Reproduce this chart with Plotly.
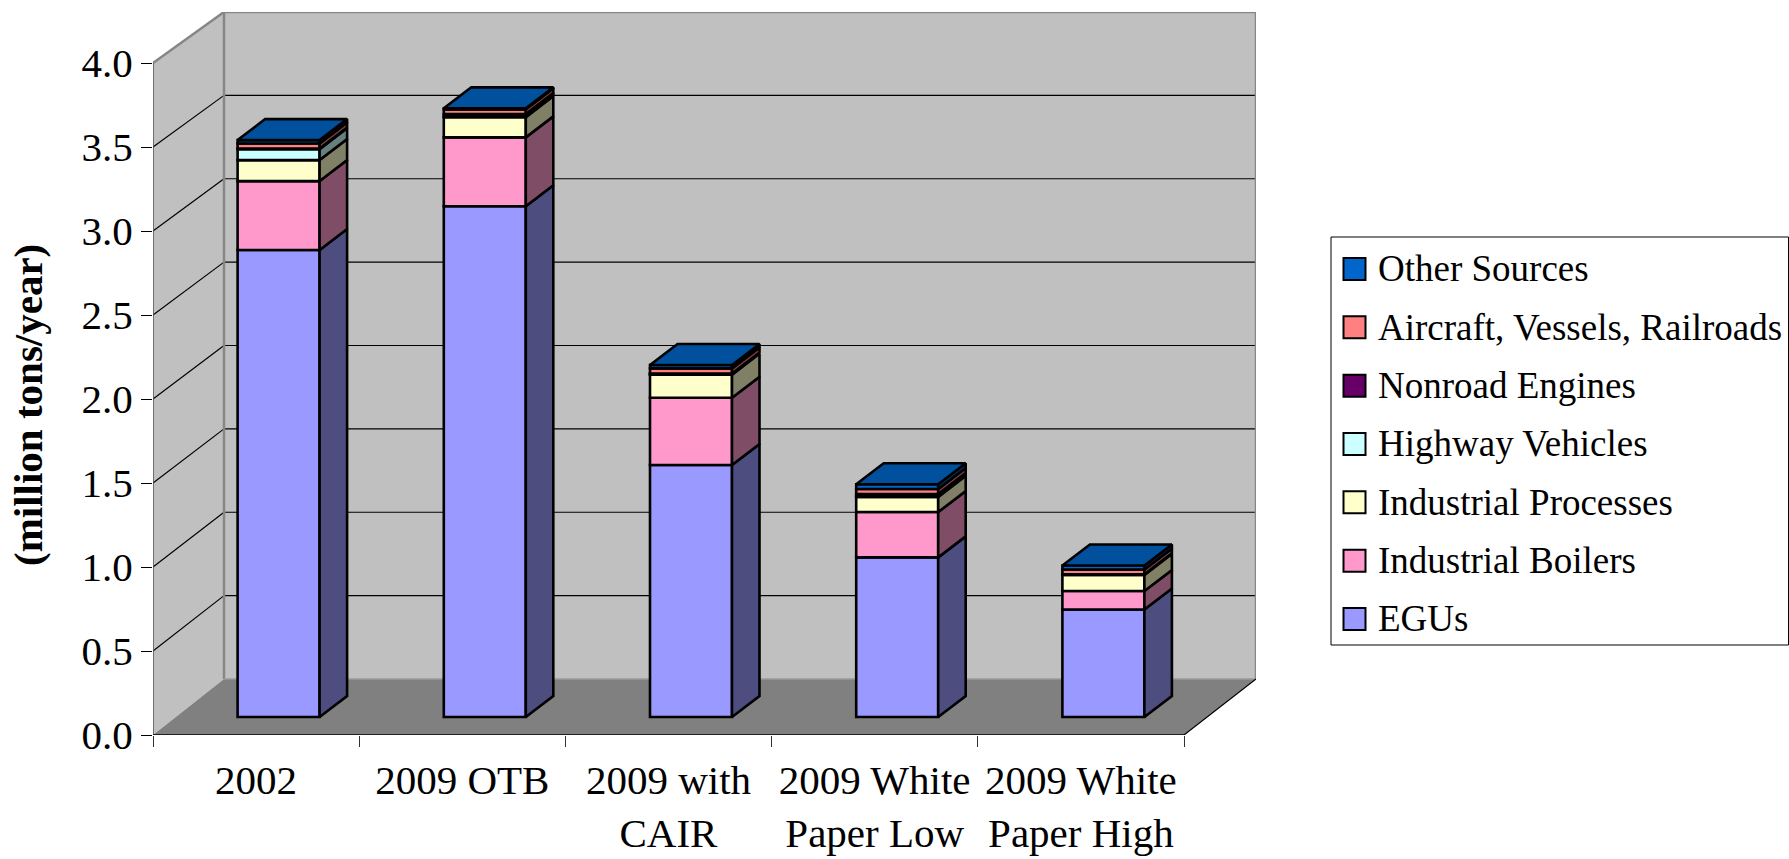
import plotly.graph_objects as go

# ---------- data ----------
categories = ["2002", "2009 OTB", "2009 with<br>CAIR", "2009 White<br>Paper Low", "2009 White<br>Paper High"]
egus       = [2.78, 3.04, 1.50, 0.95, 0.64]
ind_boil   = [0.41, 0.41, 0.40, 0.27, 0.11]
ind_proc   = [0.125, 0.12, 0.137, 0.09, 0.095]
highway    = [0.065, 0.005, 0.005, 0.005, 0.003]
nonroad    = [0.004, 0.014, 0.003, 0.012, 0.002]
aircraft   = [0.03, 0.028, 0.03, 0.03, 0.028]
other      = [0.02, 0.006, 0.02, 0.028, 0.024]

series_names = ["EGUs", "Industrial Boilers", "Industrial Processes", "Highway Vehicles",
                "Nonroad Engines", "Aircraft, Vessels, Railroads", "Other Sources"]
series_vals = [egus, ind_boil, ind_proc, highway, nonroad, aircraft, other]
front_cols = ["#9999FF", "#FF99CC", "#FFFFCC", "#CCFFFF", "#660066", "#FF8080", "#0066CC"]
side_cols  = ["#4D4D80", "#804D66", "#808066", "#668080", "#330033", "#804040", "#003366"]
top_col = "#00509E"
y_ticks = [0, 0.5, 1, 1.5, 2, 2.5, 3, 3.5, 4]

# ---------- geometry (page px -> axis units) ----------
W, H = 1789, 859
X0, X5, XR = 153, 1184, 1256      # front-left, front-right, back-right
Y0, Y4, YT = 735, 63, 12
ux = (X5 - X0) / 5
uy = (Y0 - Y4) / 4
FONT = "Liberation Serif"

xmax = (XR - X0) / ux
ytop = (Y0 - YT) / uy
wall_dx = (224 - X0) / ux
wall_b = 56 / uy
def back_y(v):
    return wall_b + v * (ytop - wall_b) / 4

bar_w = 82 / ux
bar_sx = 22.5 / ux
bar_base = 18 / uy
depth_x = 27.5 / ux
depth_y = 21 / uy
LW = 2.6

fig = go.Figure()
shapes = []
def poly(pts, fill=None, line=None, width=0, layer="below", xref="x", yref="y"):
    path = "M" + "L".join(f"{x},{y}" for x, y in pts) + "Z"
    shapes.append(dict(type="path", path=path, xref=xref, yref=yref, layer=layer,
                       fillcolor=fill or "rgba(0,0,0,0)",
                       line=dict(color=line or "rgba(0,0,0,0)", width=width)))
def seg(x0, y0, x1, y1, color, width, layer="below"):
    shapes.append(dict(type="line", x0=x0, y0=y0, x1=x1, y1=y1, xref="x", yref="y",
                       layer=layer, line=dict(color=color, width=width)))

# walls and floor
poly([(0, 0), (0, 4), (wall_dx, ytop), (wall_dx, wall_b)], fill="#C0C0C0")
poly([(wall_dx, wall_b), (wall_dx, ytop), (xmax, ytop), (xmax, wall_b)], fill="#C0C0C0")
poly([(0, 0), (wall_dx, wall_b), (xmax, wall_b), (5, 0)], fill="#808080")
# gridlines
for v in y_ticks[1:-1]:
    seg(0, v, wall_dx, back_y(v), "#000000", 1.2)
    seg(wall_dx, back_y(v), xmax, back_y(v), "#000000", 1.2)
# wall edges
G = "#868686"
seg(0, 4, wall_dx, ytop, G, 2.5)
seg(wall_dx, ytop, xmax, ytop, G, 2.5)
seg(wall_dx, wall_b, wall_dx, ytop, G, 2.5)
seg(xmax, wall_b, xmax, ytop, G, 2.5)
seg(wall_dx, wall_b, xmax, wall_b, "#9a9a9a", 1.5)
seg(0, 0, 0, 4, "#555555", 1.5)
seg(0, 0, 5, 0, "#000000", 1.5)
seg(5, 0, xmax, wall_b, "#000000", 1.2)

# stacked bar fronts, side faces
n = len(categories)
xc = [i + 0.5 + bar_sx for i in range(n)]
base = [bar_base] * n
for name, vals, fc, sc in zip(series_names, series_vals, front_cols, side_cols):
    fig.add_trace(go.Bar(x=xc, y=vals, base=list(base), width=bar_w, name=name, showlegend=False,
                         marker=dict(color=fc, line=dict(color="#000000", width=LW))))
    sx, sy = [], []
    for i in range(n):
        r = xc[i] + bar_w / 2
        b, t = base[i], base[i] + vals[i]
        sx += [r, r + depth_x, r + depth_x, r, r, None]
        sy += [b, b + depth_y, t + depth_y, t, b, None]
    fig.add_trace(go.Scatter(x=sx, y=sy, mode="lines", fill="toself", fillcolor=sc,
                             line=dict(color="#000000", width=LW), showlegend=False,
                             name=name + " (side)", hoverinfo="skip"))
    base = [b + v for b, v in zip(base, vals)]

# top faces
tx, ty = [], []
for i in range(n):
    l, r, t = xc[i] - bar_w / 2, xc[i] + bar_w / 2, base[i]
    tx += [l, r, r + depth_x, l + depth_x, l, None]
    ty += [t, t, t + depth_y, t + depth_y, t, None]
fig.add_trace(go.Scatter(x=tx, y=ty, mode="lines", fill="toself", fillcolor=top_col,
                         line=dict(color="#000000", width=LW), showlegend=False,
                         name="Other Sources (top)", hoverinfo="skip"))

# legend box (top-to-bottom order is the reverse of the stack)
def px(x): return x / W
def py(y): return 1 - y / H
shapes.append(dict(type="rect", xref="paper", yref="paper", x0=px(1331), x1=px(1788.5),
                   y0=py(645), y1=py(237), layer="above",
                   fillcolor="#FFFFFF", line=dict(color="#000000", width=1)))
annots = []
for k, (name, fc) in enumerate(zip(series_names[::-1], front_cols[::-1])):
    cy = 269 + k * 58.33
    shapes.append(dict(type="rect", xref="paper", yref="paper", x0=px(1343.5), x1=px(1365.5),
                       y0=py(cy + 11), y1=py(cy - 11), layer="above",
                       fillcolor=fc, line=dict(color="#000000", width=2)))
    annots.append(dict(text=name, xref="paper", yref="paper", x=px(1375.5), y=py(cy),
                       xanchor="left", yanchor="middle", showarrow=False,
                       font=dict(family=FONT, size=37, color="#000000")))
annots.append(dict(text="<b>(million tons/year)</b>", xref="paper", yref="paper",
                   x=px(28), y=py(405), textangle=-90, showarrow=False,
                   xanchor="center", yanchor="middle",
                   font=dict(family=FONT, size=41, color="#000000")))

fig.update_layout(
    width=W, height=H, autosize=False, barmode="overlay",
    margin=dict(l=0, r=0, t=0, b=0, pad=0),
    paper_bgcolor="#FFFFFF", plot_bgcolor="rgba(0,0,0,0)",
    font=dict(family=FONT, size=41, color="#000000"),
    shapes=shapes, annotations=annots, showlegend=False,
    xaxis=dict(domain=[px(X0), px(XR)], range=[0, xmax], showgrid=False, zeroline=False,
               showline=False, tickmode="array", automargin=False,
               tickvals=[i + 0.5 for i in range(n)], ticktext=categories,
               ticks="", ticklen=0, tickfont=dict(family=FONT, size=41),
               ticklabelstandoff=17,
               minor=dict(tickmode="array", tickvals=list(range(n + 1)), ticks="outside",
                          ticklen=11, tickwidth=1.2, tickcolor="#333333", showgrid=False)),
    yaxis=dict(domain=[py(Y0), py(YT)], range=[0, ytop], showgrid=False, zeroline=False,
               showline=False, tickmode="array", tickvals=y_ticks, automargin=False,
               ticktext=[f"{v:.1f}" for v in y_ticks],
               ticks="outside", ticklen=11, tickwidth=1.2, tickcolor="#000000",
               tickfont=dict(family=FONT, size=41), ticklabelstandoff=0),
)

fig.write_html("out.html", config={"displayModeBar": False},
               post_script="document.body.style.margin='0';")
